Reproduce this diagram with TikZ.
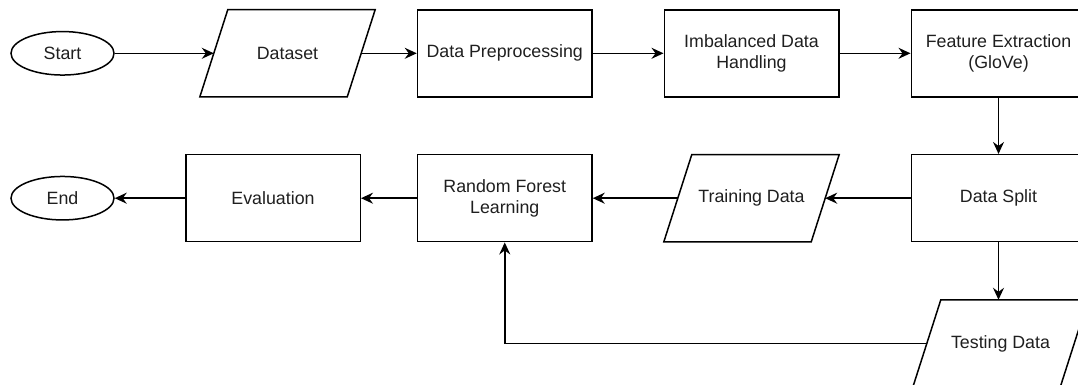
\documentclass[tikz,border=0pt]{standalone}
\usepackage{fontspec}
\setmainfont{Liberation Sans}
\usetikzlibrary{arrows.meta,shapes.geometric}
\tikzset{
  base/.style={font=\fontsize{17.8}{21}\selectfont, text=black!88, align=center, inner sep=0pt},
  procbox/.style={base, draw, line width=1.5pt, minimum width=174.5, minimum height=87},
  iobox/.style={base, minimum width=147, minimum height=87},
  term/.style={base, draw, ellipse, line width=1.5pt, minimum width=103, minimum height=43.5},
  flow/.style={line width=1.5pt, -{Stealth[length=12pt,width=11pt,inset=4pt]}},
}
\begin{document}
\begin{tikzpicture}[x=1pt,y=-1pt]
\clip (0,0) rectangle (1078,385);
% row 1
\node[term]    (start) at (62.5,53.3) {Start};
\node[iobox]   (dataset) at (287.5,53.3) {Dataset};
\node[procbox] (prep) at (504.75,53.3) {Data Preprocessing};
\node[procbox] (imb) at (751.5,53.3) {Imbalanced Data\\Handling};
\node[procbox] (feat) at (998.5,53.3) {Feature Extraction\\(GloVe)};
% row 2
\node[term]    (end) at (62.5,198.2) {End};
\node[procbox] (eval) at (273,198.2) {Evaluation};
\node[procbox] (rf) at (504.75,198.2) {Random Forest\\Learning};
\node[iobox]   (train) at (751.5,198.2) {Training Data};
\node[procbox] (split) at (998.5,198.2) {Data Split};
% row 3
\node[iobox]   (test) at (1000.5,343.5) {Testing Data};
% parallelograms
\foreach \n in {dataset,train,test}{
  \draw[line width=1.5pt, line join=miter]
    ([xshift=14]\n.north west) -- ([xshift=14]\n.north east) --
    ([xshift=-14]\n.south east) -- ([xshift=-14]\n.south west) -- cycle;
}
% connectors
\draw[flow] (start) -- (dataset);
\draw[flow] (dataset) -- (prep);
\draw[flow] (prep) -- (imb);
\draw[flow] (imb) -- (feat);
\draw[flow] (feat.south) -- (feat.south |- split.north);
\draw[flow] (split) -- (train);
\draw[flow] (train) -- (rf);
\draw[flow] (rf) -- (eval);
\draw[flow] (eval) -- (end);
\draw[flow] (split.south) -- (split.south |- test.north);
\draw[flow] (test.west) -| (rf.south);
\end{tikzpicture}
\end{document}
